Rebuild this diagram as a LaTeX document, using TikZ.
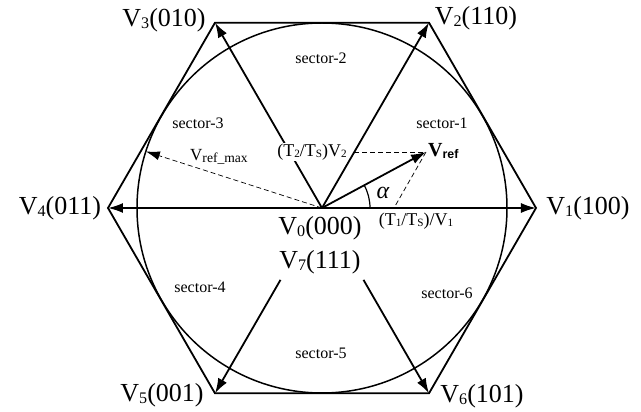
\documentclass[tikz,border=0pt]{standalone}
\usepackage{fontspec}
\usepackage{graphicx}
\setmainfont{Liberation Serif}
\newfontfamily\arialf{Liberation Sans}
\usetikzlibrary{arrows.meta}
\newcommand\lsub[1]{\raisebox{-0.08em}{\scalebox{0.62}{#1}}}
\begin{document}
\begin{tikzpicture}[x=1pt,y=1pt,
  arr/.style={line width=1.8pt,-{Latex[length=15pt,width=10pt]}},
  dashline/.style={line width=0.7pt,dash pattern=on 5pt off 3pt},
  big/.style={font=\fontsize{26}{28}\selectfont, inner sep=0pt},
  sect/.style={font=\fontsize{16}{18}\selectfont, inner sep=0pt},
  mid/.style={font=\fontsize{18}{20}\selectfont}]
\useasboundingbox (-322,-204) rectangle (319,208);
\coordinate (O) at (0,0);
\foreach \i/\a in {1/0,2/60,3/120,4/180,5/240,6/300} \coordinate (P\i) at (\a:214);
\draw[line width=1.8pt, line join=miter] (P1)--(P2)--(P3)--(P4)--(P5)--(P6)--cycle;
\draw[line width=1.5pt] (O) circle[radius=185];
\draw[arr] (O) -- (P1);
\draw[arr] (O) -- (P4);
\draw[arr] (O) -- (P3);
\node[mid, fill=white, inner sep=1pt] (t2) at (-10,56) {(T\lsub{2}/T\lsub{S})V\lsub{2}};
\draw[arr] (O) -- (P2);
\coordinate (s5) at (240:83);
\coordinate (s6) at (300:83);
\draw[arr] (s5) -- (P5);
\draw[arr] (s6) -- (P6);
\coordinate (vr) at (104,56);
\coordinate (pa) at (32.3,56);
\coordinate (pb) at (72,0);
\draw[dashline] (pa) -- (vr);
\draw[dashline] (vr) -- (pb);
\draw[arr] (O) -- (vr);
\draw[line width=1.2pt] (48,0) arc[start angle=0,end angle=28.3,radius=48];
\coordinate (m) at (162.2:185);
\draw[dashline, -{Latex[length=14pt,width=9pt]}] (O) -- (m);
% labels
\node[big] (l3) at (-158,188) {V\lsub{3}(010)};
\node[big] (l2) at (154,190) {V\lsub{2}(110)};
\node[big] (l4) at (-262,0) {V\lsub{4}(011)};
\node[big] (l1) at (266,0) {V\lsub{1}(100)};
\node[big] (l5) at (-160,-187) {V\lsub{5}(001)};
\node[big] (l6) at (160,-188) {V\lsub{6}(101)};
\node[big] (l0) at (-2,-20) {V\lsub{0}(000)};
\node[big] (l7) at (-2,-54) {V\lsub{7}(111)};
\node[sect] (se1) at (120,85) {sector-1};
\node[sect] (se2) at (-1,150) {sector-2};
\node[sect] (se3) at (-124,85) {sector-3};
\node[sect] (se4) at (-122,-79) {sector-4};
\node[sect] (se5) at (-1,-145) {sector-5};
\node[sect] (se6) at (125,-85) {sector-6};
\node[font=\fontsize{20}{22}\selectfont\bfseries, anchor=west, inner sep=1pt] (vrl) at (105,57) {V\lsub{\arialf\bfseries ref}};
\node[font=\fontsize{24}{26}\selectfont\itshape, inner sep=0pt] (al) at (61,15) {α};
\node[mid, inner sep=0pt] (t1) at (94,-13) {(T\lsub{1}/T\lsub{S})/V\lsub{1}};
\node[font=\fontsize{17}{19}\selectfont, inner sep=0pt] (vm) at (-103,51) {V\raisebox{-0.1em}{\scalebox{0.8}{ref\_max}}};
\end{tikzpicture}
\end{document}
